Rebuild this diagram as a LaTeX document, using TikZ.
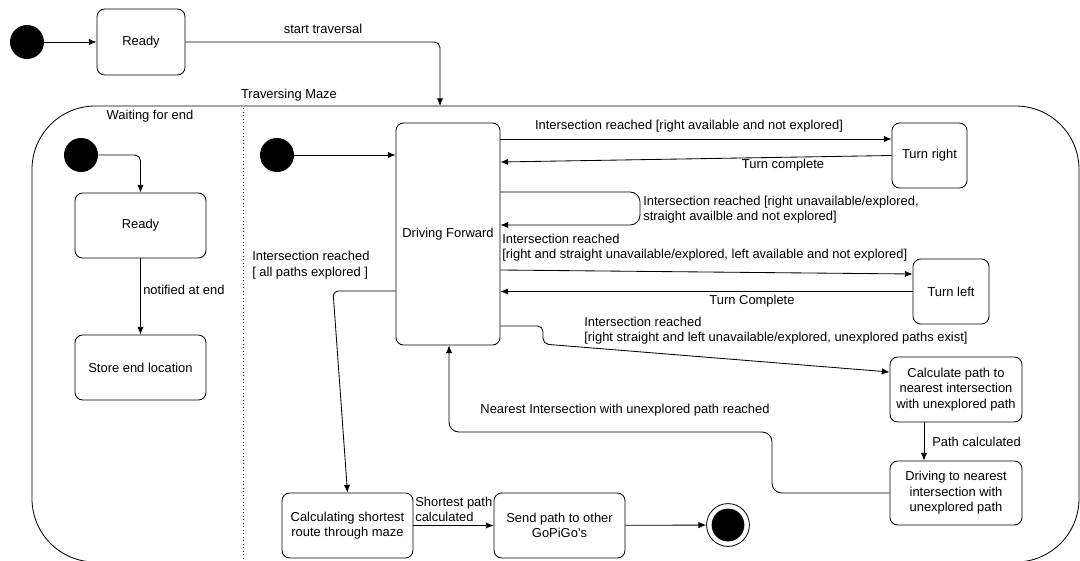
\documentclass[tikz,border=0pt]{standalone}
\usepackage{fontspec}
\setmainfont{Liberation Sans}
\usetikzlibrary{arrows.meta}

\begin{document}
\begin{tikzpicture}[x=0.025cm, y=-0.025cm,
	every node/.style={font=\fontsize{9.2}{11}\selectfont},
	state/.style={draw, rounded corners=5.5pt, align=center, inner sep=0pt, line width=0.6pt},
	init/.style={circle, fill=black, minimum size=0.85cm, inner sep=0pt},
	trans/.style={line width=0.6pt, -{Latex[length=5.5pt,width=4.5pt]}, rounded corners=4pt},
	lbl/.style={align=left, inner sep=0pt}]

\clip (0,0) rectangle (1080,560);

%Outer machine
\node[init] (start) at (27,42) {};
\node[state, minimum width=2.2cm, minimum height=1.65cm] (ready) at (141,42) {Ready};
\draw[trans] (start) -- (ready);

%Composite state
\draw[line width=0.6pt, rounded corners=45pt] (32,106) rectangle (1079,562);
\coordinate (maze) at (440,106);
\node at (289,95) {Traversing Maze};
\draw[trans] (ready) -- (maze |- ready.east) -- (maze);
\node at (323,29) {start traversal};

%Region separator
\draw[dotted, line width=0.5pt] (243,108) -- (243,560);

%Waiting for end
\node at (150,116) {Waiting for end};
\node[init] (start2) at (81,155) {};
\node[state, minimum width=3.275cm, minimum height=1.625cm] (ready2) at (140.5,225.5) {Ready};
\node[state, minimum width=3.275cm, minimum height=1.625cm] (store) at (140.5,367.5) {Store end location};
\draw[trans] (start2) -| (ready2);
\draw[trans] (ready2) -- (store);
\node[lbl, anchor=west] at (143,290) {notified at end};

%Traversing
\node[init] (start3) at (277,155) {};
\node[state, minimum width=2.6cm, minimum height=5.55cm] (drive) at (448,234) {Driving Forward};
\draw[trans] (start3) -- (drive.west |- start3);

\node[state, minimum width=1.875cm, minimum height=1.625cm] (right) at (929.5,155.5) {Turn right};
\node[state, minimum width=1.9cm, minimum height=1.625cm] (left) at (951,291.5) {Turn left};
\node[state, minimum width=3.3cm, minimum height=1.625cm] (calc) at (956,389.5) {Calculate path to\\nearest intersection\\with unexplored path};
\node[state, minimum width=3.3cm, minimum height=1.6cm] (goto) at (956,493) {Driving to nearest\\intersection with\\unexplored path};
\node[state, minimum width=3.275cm, minimum height=1.625cm] (route) at (347.5,525.5) {Calculating shortest\\route through maze};
\node[state, minimum width=3.275cm, minimum height=1.625cm] (send) at (559.5,525.5) {Send path to other\\GoPiGo's};
\node[circle, draw, line width=0.6pt, minimum size=1.07cm, inner sep=0pt] (finish) at (728,525) {};
\node[init, minimum size=0.82cm] at (finish) {};

%Turning right
\draw[trans] (drive.east |- 0,139) -- (right.west |- 0,139);
\node at (689,126) {Intersection reached [right available and not explored]};
\draw[trans] (right.west) -- (drive.east |- 0,162);
\node at (783,165) {Turn complete};

%Straight on
\draw[trans, rounded corners=7pt] (drive.east |- 0,192) -- (640,192) -- (640,225) -- (drive.east |- 0,225);
\node[lbl, anchor=west] at (643,209.5) {Intersection reached [right unavailable/explored,\\straight availble and not explored]};

%Turning left
\node[lbl, anchor=west] at (502,247.5) {Intersection reached\\{}[right and straight unavailable/explored, left available and not explored]};
\draw[trans] (drive.east |- 0,270) -- (left.west |- 0,274);
\draw[trans] (left.west) -- (drive.east |- left.west);
\node at (752,301) {Turn Complete};

%Back to nearest intersection
\node[lbl, anchor=west] at (584,330.5) {Intersection reached\\{}[right straight and left unavailable/explored, unexplored paths exist]};
\draw[trans] (drive.east |- 0,326) -- (543,326) -- (543,344) -- (calc.west |- 0,372);
\draw[trans] (calc.south -| 924,0) -- (goto.north -| 924,0);
\node[lbl, anchor=west] at (932,442) {Path calculated};
\draw[trans, rounded corners=7pt] (goto.west) -- (772,493) -- (772,432) -- (449,432) -- (drive.south -| 449,0);
\node at (625,410) {Nearest Intersection with unexplored path reached};

%All explored
\draw[trans] (drive.west |- 0,291) -- (333,291) -- (route.north);
\node[lbl, anchor=west] at (252,265) {Intersection reached\\{}[ all paths explored ]};
\draw[trans] (route) -- (send);
\node[lbl, anchor=west] at (415,509.5) {Shortest path\\calculated};
\draw[trans] (send) -- (finish);

\end{tikzpicture}
\end{document}
